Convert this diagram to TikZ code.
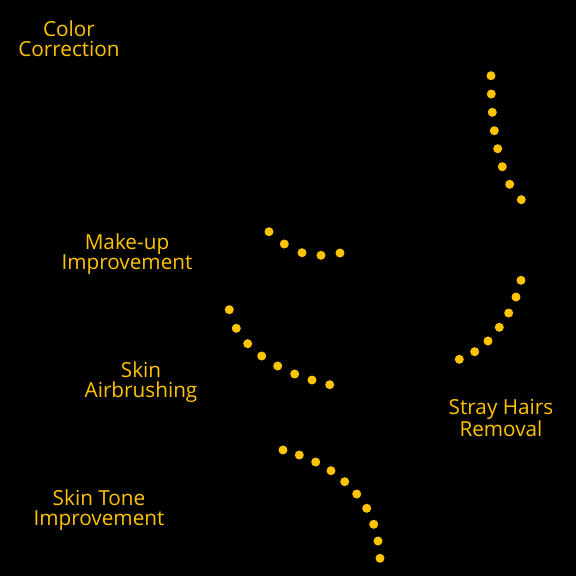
\documentclass[tikz,border=0pt]{standalone}
\usepackage{fontspec}
\setmainfont{Open Sans}
\usepackage{tikz}
\usepackage{xcolor}
\definecolor{gold}{HTML}{FFC400}
\tikzset{
  lbl/.style={text=gold,align=center,inner sep=0pt,font=\fontsize{11.8pt}{11.4pt}\selectfont},
  dot/.style={circle,fill=gold,inner sep=0pt,minimum size=0.18cm}
}

\begin{document}
\begin{tikzpicture}[x=0.02cm,y=-0.02cm]
\fill[black] (0,0) rectangle (576,576);
\useasboundingbox (0,0) rectangle (576,576);
\node[lbl] (color) at (69,38.5) {Color\\Correction};
\node[lbl] (makeup) at (127,254.5) {Make-up\\Improvement};
\node[lbl] (airbrush) at (141,382.5) {Skin\\Airbrushing};
\node[lbl] (stray) at (501,418) {Stray Hairs\\Removal};
\node[lbl] (tone) at (99,510.5) {Skin Tone\\Improvement};
\foreach \x/\y [count=\i] in {491/75.7,491.3/94,492.3/112.3,494.3/130.7,497.7/148.7,502.3/166.7,509.7/184.3,521.3/199.7}
  \node[dot] (c\i) at (\x,\y) {};
\foreach \x/\y [count=\i] in {269/231.7,284.3/244,302/252.7,321/255.3,340/253}
  \node[dot] (m\i) at (\x,\y) {};
\foreach \x/\y [count=\i] in {229.3/309.7,236.3/328.3,247.7/343.7,261.7/356,277.7/366,294.7/374,312/380,329.7/384.7}
  \node[dot] (a\i) at (\x,\y) {};
\foreach \x/\y [count=\i] in {521/280.3,516/297,508.7/313,499.3/327.3,488/341,474.7/351.7,459.3/359.3}
  \node[dot] (s\i) at (\x,\y) {};
\foreach \x/\y [count=\i] in {283/450,299.3/455,315.7/462,331/470.7,344.7/481.7,356.7/494,366.7/508.3,373.7/524.3,378/541,380/558.3}
  \node[dot] (t\i) at (\x,\y) {};
\end{tikzpicture}
\end{document}
